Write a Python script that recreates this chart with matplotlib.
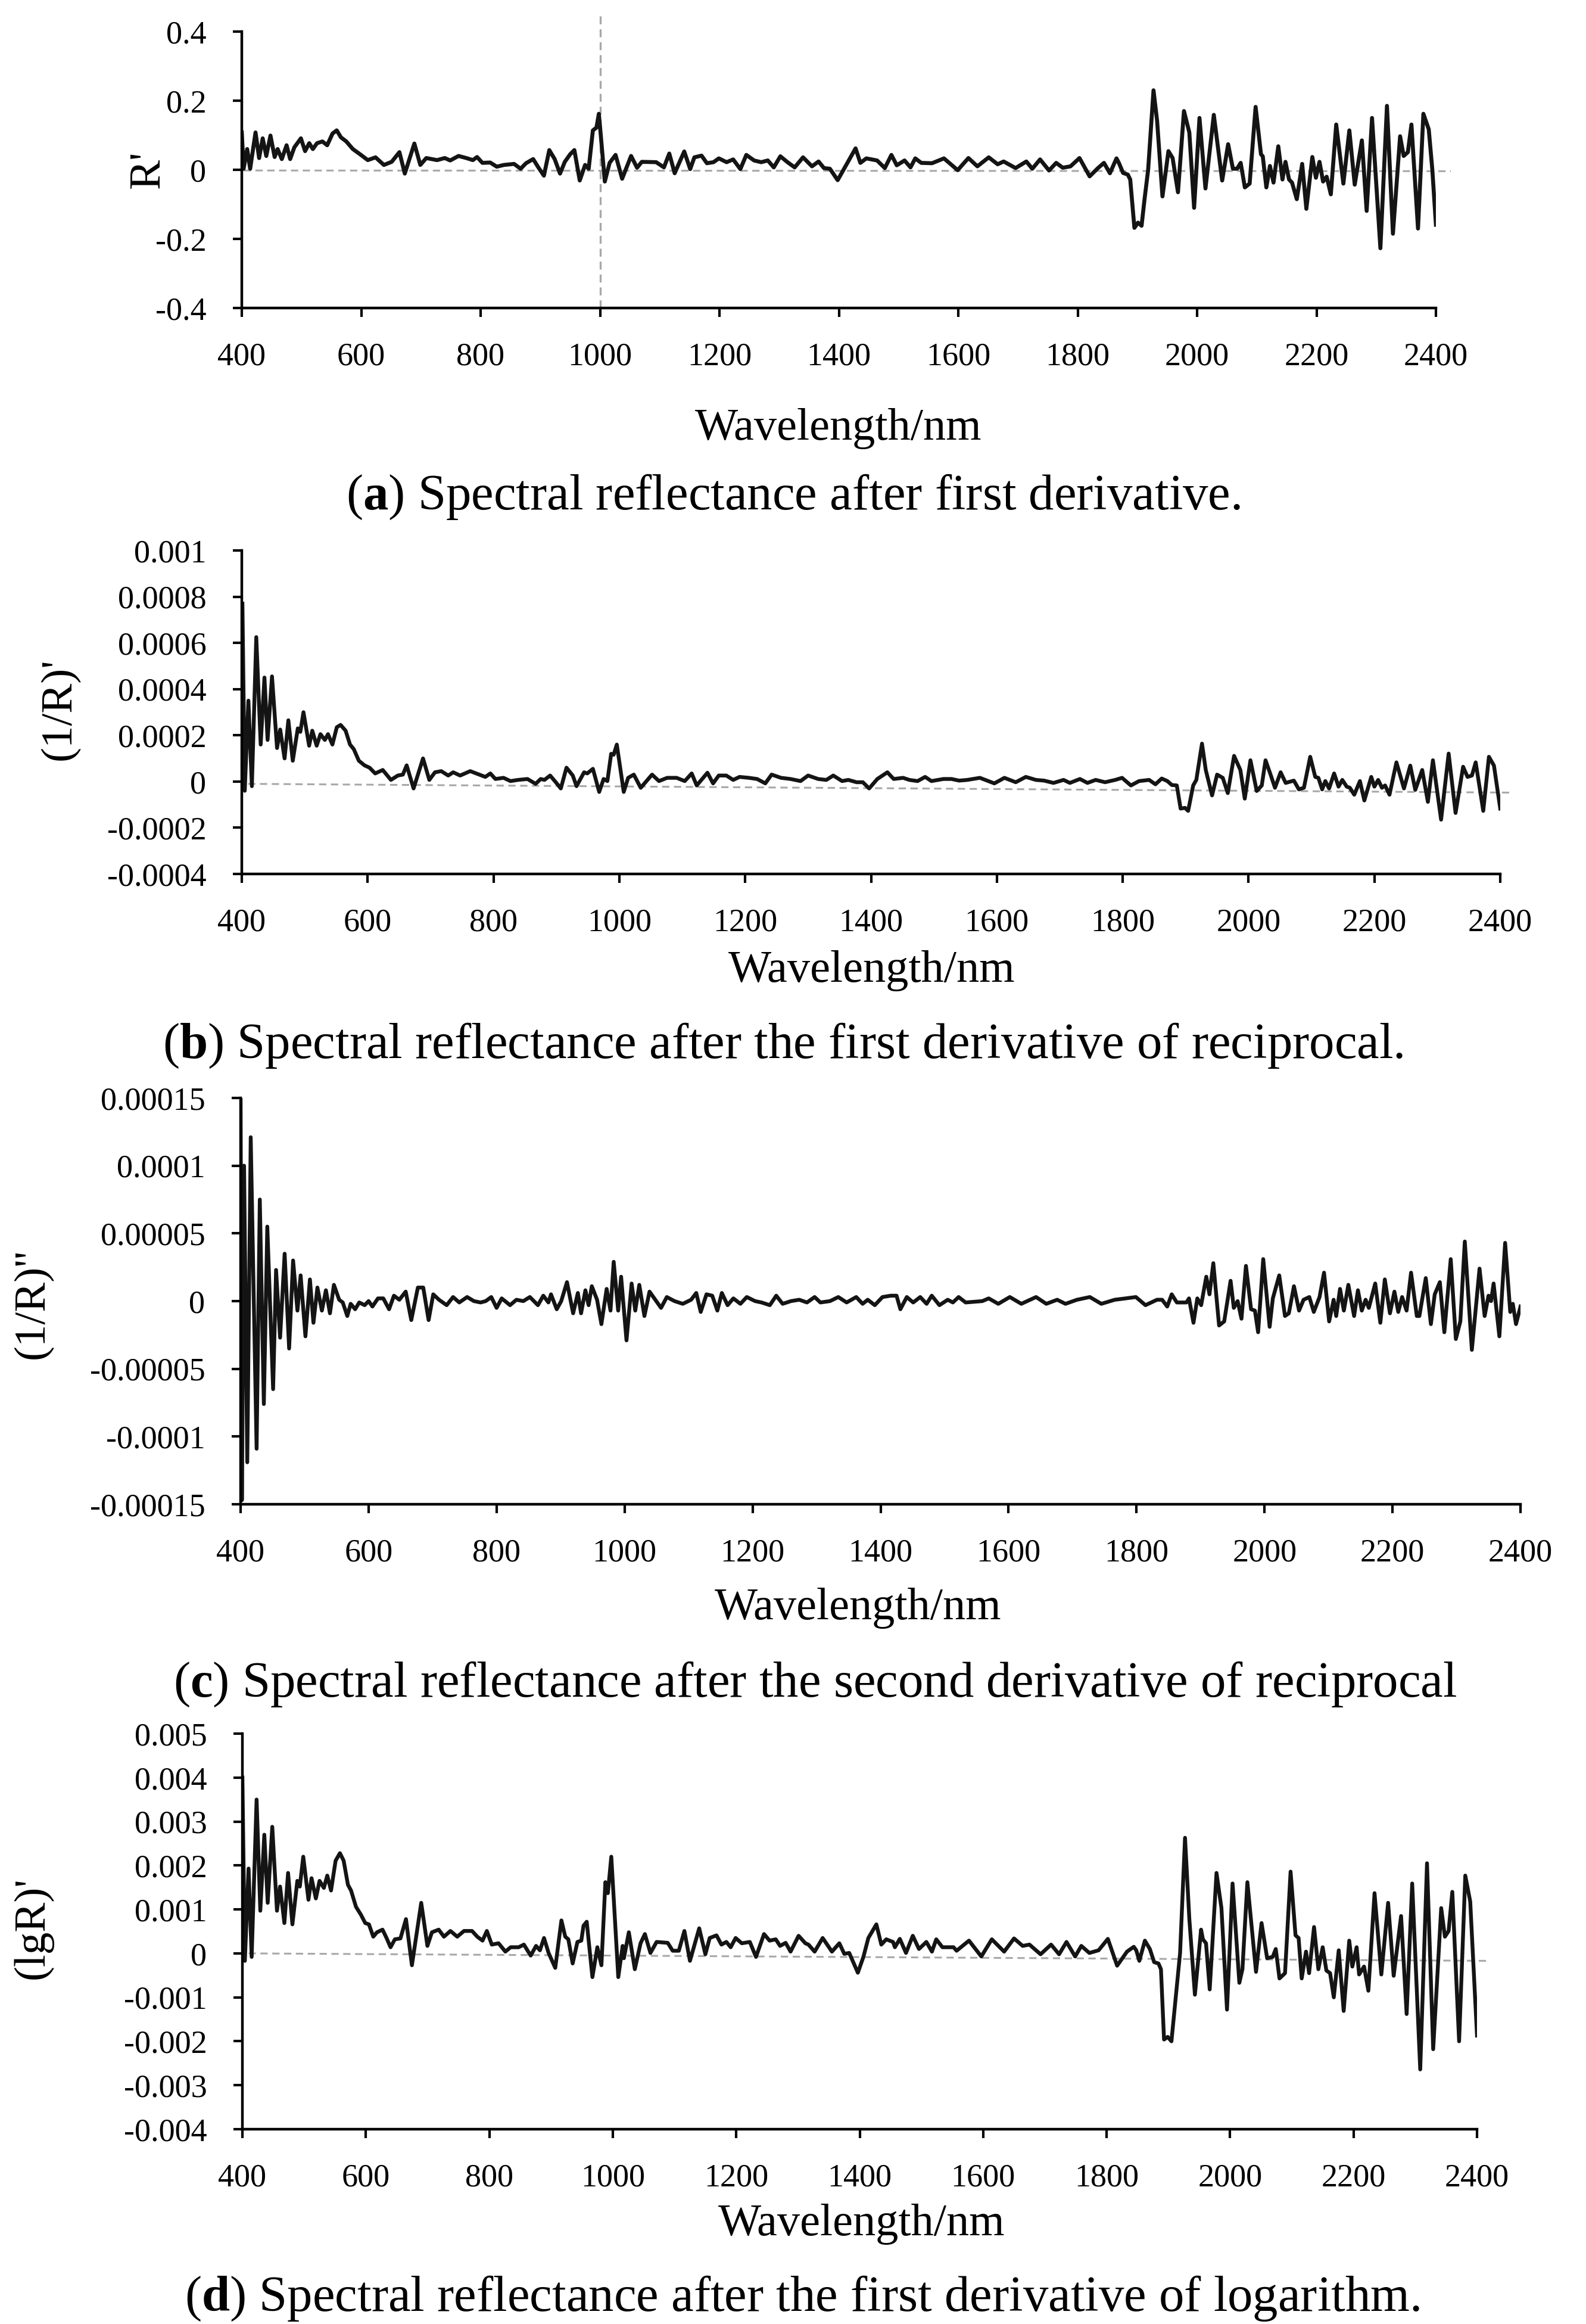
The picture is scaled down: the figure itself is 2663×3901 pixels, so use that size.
"""Spectral reflectance after derivative transforms: four stacked panels."""
import numpy as np
import matplotlib.pyplot as plt

plt.rcParams['font.family'] = ['Liberation Serif', 'DejaVu Serif']
plt.rcParams['mathtext.fontset'] = 'custom'
plt.rcParams['mathtext.rm'] = 'Liberation Serif'
plt.rcParams['mathtext.bf'] = 'Liberation Serif:bold'

# ---- data ----
wl_ticks = [400, 600, 800, 1000, 1200, 1400, 1600, 1800, 2000, 2200, 2400]

# (a) first derivative R'
wl_a = [400, 403, 409, 414, 423, 429, 435, 441, 448, 455,
        460, 467, 475, 481, 488, 499, 506, 513, 519, 526,
        535, 543, 552, 559, 566, 575, 586, 598, 611, 624,
        638, 651, 664, 673, 689, 699, 709, 727, 740, 749,
        763, 776, 787, 794, 803, 816, 827, 839, 856, 867,
        876, 888, 897, 906, 915, 924, 933, 941, 950, 957,
        966, 975, 981, 988, 994, 998, 1001, 1008, 1016, 1026,
        1037, 1052, 1062, 1070,
        1094, 1107, 1116, 1125, 1141, 1151, 1158, 1170, 1179, 1190,
        1199, 1212, 1223, 1235, 1245, 1258, 1270, 1281, 1291, 1302,
        1314, 1326, 1340, 1355, 1366, 1375, 1385, 1398, 1413, 1428,
        1436, 1446, 1464, 1477, 1488, 1497, 1510, 1520, 1528, 1538,
        1556, 1576, 1599, 1617, 1632, 1651, 1666, 1676, 1696, 1714,
        1724, 1737, 1752, 1764, 1775, 1788, 1803, 1820, 1834, 1844,
        1854, 1865,
        1869, 1876, 1884, 1888, 1895, 1901, 1907, 1912, 1918, 1927,
        1933, 1942, 1952, 1959, 1968, 1978, 1987, 1995, 2004, 2014,
        2028, 2042, 2052, 2060, 2067, 2073, 2080, 2088, 2098, 2107,
        2110, 2116, 2122, 2128, 2136, 2143, 2148, 2154, 2159, 2167,
        2176, 2183, 2193, 2199, 2205, 2211, 2217, 2224, 2233, 2245,
        2255, 2264, 2276, 2284, 2293, 2307, 2318, 2328, 2340, 2346,
        2353, 2359, 2370, 2379, 2388, 2394, 2400]
d1_a = [0.108, 0.003, 0.060, 0.003, 0.108, 0.034, 0.091, 0.040, 0.099, 0.037,
        0.060, 0.031, 0.071, 0.031, 0.065, 0.091, 0.054, 0.077, 0.060, 0.077,
        0.082, 0.071, 0.105, 0.114, 0.094, 0.082, 0.060, 0.045, 0.028, 0.036,
        0.014, 0.023, 0.051, -0.011, 0.076, 0.014, 0.034, 0.028, 0.034, 0.027,
        0.040, 0.034, 0.028, 0.037, 0.020, 0.021, 0.009, 0.014, 0.017, 0.003,
        0.019, 0.031, 0.006, -0.017, 0.057, 0.031, -0.011, 0.023, 0.045, 0.057,
        -0.031, 0.014, 0.003, 0.114, 0.122, 0.162, 0.105, -0.034, 0.020, 0.043,
        -0.026, 0.040, 0.006, 0.023,
        0.022, 0.007, 0.047, -0.010, 0.053, 0.002, 0.036, 0.041, 0.019, 0.022,
        0.033, 0.022, 0.030, 0.002, 0.043, 0.027, 0.022, 0.027, 0.007, 0.039,
        0.022, 0.007, 0.036, 0.010, 0.024, 0.005, 0.003, -0.030, 0.016, 0.062,
        0.020, 0.033, 0.027, 0.005, 0.043, 0.013, 0.027, 0.007, 0.033, 0.020,
        0.019, 0.033, -0.001, 0.034, 0.010, 0.036, 0.016, 0.024, 0.005, 0.024,
        0.003, 0.030, -0.002, 0.020, 0.006, 0.010, 0.034, -0.019, 0.005, 0.020,
        -0.010, 0.033,
        0.020, -0.009, -0.014, -0.028, -0.168, -0.153, -0.162, -0.085, 0.000, 0.230,
        0.142, -0.077, 0.054, 0.034, -0.065, 0.170, 0.108, -0.110, 0.150, -0.054,
        0.159, -0.031, 0.074, 0.003, 0.003, 0.020, -0.051, -0.040, 0.182, 0.045,
        0.039, -0.051, 0.011, -0.037, 0.068, -0.028, 0.023, -0.028, -0.037, -0.085,
        0.017, -0.113, 0.037, -0.023, 0.023, -0.034, -0.020, -0.071, 0.131, -0.040,
        0.114, -0.043, 0.085, -0.119, 0.150, -0.227, 0.185, -0.185, 0.097, 0.040,
        0.051, 0.131, -0.170, 0.162, 0.117, 0.000, -0.159]

# (b) first derivative of 1/R, in units of 1e-4
wl_b = [401, 404.7, 410.5, 416, 423, 430, 436, 441, 448, 456,
        461, 468, 474, 481, 489, 493, 498, 507, 512, 519,
        525, 532, 537, 544, 551, 557, 565, 572, 578, 586,
        595, 603, 612, 624, 637, 648, 656, 662, 673, 688,
        698, 707, 717, 728, 736, 747, 763, 787, 795, 803,
        816, 827, 839, 854, 867, 875, 881, 890, 899, 907,
        916, 926, 932, 944, 949, 958, 968, 975, 981, 987,
        991, 996, 1007, 1014, 1023, 1034,
        1052, 1063, 1076, 1091, 1104, 1115, 1123, 1140, 1149, 1158,
        1170, 1181, 1191, 1206, 1219, 1232, 1242, 1257, 1272, 1288,
        1300, 1316, 1329, 1340, 1354, 1364, 1377, 1387, 1397, 1410,
        1426, 1436, 1451, 1461, 1474, 1486, 1496, 1515, 1528, 1540,
        1553, 1573, 1596, 1612, 1630, 1646, 1662, 1675, 1690, 1706,
        1716, 1732, 1744, 1757, 1772, 1788, 1799, 1813, 1826,
        1842, 1852, 1862, 1871, 1878, 1886, 1892, 1899, 1904, 1912,
        1917, 1926, 1932, 1942, 1950, 1959, 1967, 1977, 1987, 1994,
        2003, 2013, 2021, 2027, 2035, 2042, 2051, 2059, 2072, 2080,
        2088, 2098, 2106, 2111, 2117, 2122, 2128, 2136, 2143, 2149,
        2156, 2161, 2168, 2177, 2184, 2195, 2200, 2206, 2212, 2217,
        2224, 2235, 2247, 2257, 2265, 2276, 2285, 2293, 2306, 2318,
        2329, 2341, 2348, 2355, 2361, 2373, 2382, 2390, 2400]
d1_inv_b = [7.7, -0.4, 3.5, -0.2, 6.25, 1.6, 4.5, 1.8, 4.55, 1.45,
            2.25, 1.0, 2.65, 0.9, 2.3, 2.15, 3.0, 1.55, 2.2, 1.55,
            2.05, 1.8, 2.05, 1.6, 2.35, 2.45, 2.2, 1.6, 1.4, 0.9,
            0.7, 0.6, 0.35, 0.5, 0.07, 0.26, 0.3, 0.7, -0.3, 1.0,
            0.07, 0.4, 0.45, 0.26, 0.4, 0.26, 0.45, 0.2, 0.35, 0.11,
            0.16, 0.02, 0.07, 0.11, -0.1, 0.11, 0.07, 0.26, -0.03, -0.3,
            0.6, 0.26, -0.2, 0.4, 0.35, 0.55, -0.45, 0.11, 0.02, 1.2,
            1.16, 1.6, -0.45, 0.16, 0.3, -0.27,
            0.3, 0.02, 0.16, 0.16, 0.02, 0.35, -0.17, 0.38, -0.08, 0.26,
            0.26, 0.07, 0.2, 0.16, 0.11, -0.08, 0.3, 0.16, 0.11, 0.02,
            0.26, 0.11, 0.07, 0.26, 0.02, 0.07, -0.03, -0.03, -0.3, 0.11,
            0.4, 0.11, 0.16, 0.07, 0.02, 0.2, 0.02, 0.11, 0.11, 0.04,
            0.07, 0.16, -0.08, 0.16, -0.03, 0.2, 0.07, 0.04, -0.06, 0.07,
            -0.06, 0.11, -0.06, 0.07, -0.03, 0.07, 0.16, -0.17, 0.02,
            0.07, -0.12, 0.13, 0.02, -0.15, -0.17, -1.17, -1.14, -1.27, -0.17,
            0.07, 1.64, 0.5, -0.6, 0.3, 0.16, -0.5, 1.11, 0.5, -0.74,
            0.92, -0.41, -0.17, 0.92, 0.3, -0.27, 0.4, -0.06, 0.04, -0.34,
            -0.27, 1.07, 0.2, 0.16, -0.34, 0.02, -0.3, 0.35, -0.22, 0.07,
            -0.22, -0.27, -0.57, 0.02, -0.82, 0.2, -0.22, 0.07, -0.27, -0.17,
            -0.57, 0.83, -0.3, 0.69, -0.36, 0.5, -0.88, 0.92, -1.65, 1.21,
            -1.36, 0.64, 0.2, 0.26, 0.83, -1.27, 1.07, 0.69, -1.17]

# (c) second derivative of 1/R, in units of 1e-5
wl_c = [400, 402, 405.4, 410.4, 415.8, 425, 430, 436.3, 441.7, 450.8,
        455.4, 461.7, 468.8, 475.8, 482, 488.8, 493.8, 501.3, 508.3, 513.8,
        520, 527, 533.3, 539.6, 545.8, 554, 559.6, 566.7, 572, 579,
        585.4, 593.8, 600, 606, 614.6, 623, 632, 639.6, 648, 658,
        666.7, 677, 685.4, 693.8, 701, 710, 722, 732, 741.7, 754,
        764.6, 775, 783, 791.7, 800, 808, 821, 831, 841.7, 852,
        864.6, 873, 881, 885, 894, 901, 910, 919.6, 927, 932,
        938.8, 943.8, 948.8, 957, 963.8, 972, 978, 983, 990, 994.6,
        1003, 1011, 1016.7, 1023,
        1031, 1039, 1048, 1057, 1066, 1078, 1091, 1104, 1112, 1119,
        1128, 1137, 1145, 1152, 1161, 1170, 1181, 1191, 1204, 1214,
        1227, 1237, 1247, 1260, 1273, 1285, 1297, 1306, 1321, 1334,
        1347, 1362, 1372, 1380, 1391, 1403, 1416, 1425, 1431, 1441,
        1451, 1462, 1472, 1480, 1492, 1505, 1513, 1522, 1533, 1559,
        1569, 1584, 1602, 1620, 1643, 1659, 1676, 1689, 1707, 1727,
        1745, 1766, 1783, 1799, 1814,
        1832, 1840, 1848, 1855, 1863, 1878, 1882, 1889, 1895, 1901,
        1909, 1914, 1920, 1929, 1937, 1947, 1952, 1958, 1964, 1971,
        1979, 1985, 1990, 1998, 2008, 2013, 2023, 2032, 2038, 2046,
        2054, 2061, 2070, 2077, 2086, 2093, 2101, 2108, 2112, 2118,
        2124, 2131, 2140, 2146, 2152, 2158, 2163, 2173, 2181, 2188,
        2196, 2203, 2209, 2215, 2222, 2229, 2238, 2242, 2252, 2260,
        2266, 2274, 2281, 2291, 2299, 2306, 2313, 2324, 2336, 2344,
        2350, 2354, 2358, 2367, 2376, 2384, 2388, 2393, 2400]
d2_inv_c = [15.0, -14.7, 10.0, -11.9, 12.1, -10.9, 7.5, -7.6, 5.5, -6.5,
            2.3, -2.7, 3.5, -3.5, 3.0, -0.7, 1.9, -2.6, 1.6, -1.6,
            1.0, -0.7, 0.8, -0.9, 1.2, 0.1, -0.1, -1.1, -0.2, -0.6,
            -0.1, -0.3, 0.0, -0.4, 0.2, 0.2, -0.6, 0.4, 0.1, 0.7,
            -1.4, 1.0, 1.0, -1.4, 0.5, 0.1, -0.3, 0.3, -0.1, 0.3,
            0.0, -0.1, 0.0, 0.3, -0.5, 0.2, -0.3, 0.1, 0.0, 0.3,
            -0.3, 0.4, -0.1, 0.5, -0.6, 0.0, 1.4, -0.9, 0.6, -0.9,
            0.8, -0.3, 1.1, 0.1, -1.7, 0.9, -0.7, 2.9, -0.7, 1.8,
            -2.9, 1.3, -0.7, 1.2,
            -1.1, 0.7, 0.1, -0.5, 0.3, 0.0, -0.2, 0.1, 0.6, -0.8,
            0.5, 0.4, -0.7, 0.6, -0.3, 0.2, -0.2, 0.3, 0.0, -0.1,
            -0.3, 0.4, -0.2, 0.0, 0.1, -0.1, 0.3, -0.1, 0.0, 0.3,
            -0.1, 0.3, -0.2, 0.1, -0.3, 0.3, 0.4, 0.4, -0.6, 0.3,
            -0.1, 0.3, -0.2, 0.4, -0.3, 0.1, -0.1, 0.3, -0.1, 0.0,
            0.2, -0.2, 0.3, -0.2, 0.3, -0.2, 0.1, -0.2, 0.1, 0.3,
            -0.2, 0.1, 0.2, 0.3, -0.3,
            0.1, 0.1, -0.4, 0.5, -0.1, -0.1, 0.2, -1.6, 0.2, -0.3,
            1.8, 0.5, 2.8, -1.8, -1.5, 1.5, -0.5, 0.0, -1.3, 2.6,
            -0.6, -0.7, -2.3, 3.1, -1.9, 0.2, 1.9, -1.1, -0.9, 1.1,
            -0.7, 0.1, 0.3, -0.8, 0.3, 2.1, -1.5, 0.1, -1.1, 0.9,
            -0.7, 1.2, -1.1, 0.8, -0.7, 0.1, -0.5, 1.3, -1.6, 1.6,
            -0.9, 0.7, -0.8, 0.3, -0.7, 2.1, -1.1, -1.1, 1.7, -1.7,
            0.5, 1.4, -2.3, 3.1, -2.8, -1.5, 4.4, -3.6, 2.4, -1.1,
            0.4, 0.0, 1.3, -2.6, 4.3, -0.8, -0.2, -1.7, -0.4]

# (d) first derivative of lgR, in units of 1e-3
wl_d = [400, 404, 410, 415, 423, 429, 435.5, 441, 448.4, 456,
        461, 468, 474, 481, 489, 493, 498.6, 507, 512, 519,
        525, 532, 537.5, 543.6, 551, 558, 564, 571, 576, 584,
        592, 599, 605, 612, 618, 627, 633.5, 640, 647, 656,
        665, 674.6, 689.7, 699.7, 707, 718, 726.5, 737, 748, 759,
        772, 780.5, 789, 796, 804, 815, 826, 834.6, 847.6, 856,
        867, 875.7, 882, 888.6, 896, 906.8, 916.8, 923, 928, 935,
        942.7, 949, 952.6, 957.8, 967, 975, 981.6, 988, 992, 997.6,
        1008.9, 1016, 1018, 1026, 1035.7,
        1045, 1052, 1061, 1071, 1089, 1097, 1107, 1116, 1125, 1140,
        1150, 1157, 1168, 1176, 1184, 1191, 1199, 1209, 1222, 1232,
        1245, 1254, 1264, 1271, 1280, 1288, 1301, 1312, 1317, 1327,
        1340, 1355, 1367, 1375, 1383, 1397, 1406, 1414, 1427, 1435,
        1443, 1454, 1457, 1465, 1475, 1486, 1496, 1508, 1517, 1524,
        1534, 1552, 1557, 1577, 1597, 1614, 1634, 1650, 1664, 1675,
        1693, 1710, 1723, 1735, 1749, 1759, 1772, 1787, 1802, 1817,
        1833,
        1844, 1848, 1853, 1862, 1870, 1877, 1884, 1888, 1893, 1899,
        1905, 1912, 1919, 1927, 1934, 1943, 1953, 1956, 1961, 1967,
        1978, 1986, 1995, 2004, 2015, 2020, 2028, 2042, 2051, 2060,
        2069, 2074, 2080, 2089, 2098, 2106, 2111, 2116, 2123, 2128,
        2136, 2143, 2150, 2156, 2162, 2168, 2176, 2184, 2193, 2198,
        2205, 2209, 2217, 2224, 2234, 2245, 2256, 2265, 2277, 2286,
        2295, 2308, 2319, 2329, 2342, 2348, 2354, 2360, 2371, 2381,
        2389, 2400]
d1_log_d = [4.0, -0.17, 1.93, -0.08, 3.5, 0.97, 2.7, 1.15, 2.88, 0.97,
            1.52, 0.69, 1.83, 0.66, 1.65, 1.52, 2.2, 1.22, 1.71, 1.25,
            1.65, 1.49, 1.77, 1.43, 2.11, 2.28, 2.11, 1.56, 1.43, 1.06,
            0.88, 0.69, 0.66, 0.38, 0.48, 0.54, 0.35, 0.14, 0.32, 0.34,
            0.78, -0.27, 1.15, 0.17, 0.48, 0.54, 0.38, 0.51, 0.38, 0.51,
            0.51, 0.38, 0.29, 0.51, 0.2, 0.23, 0.04, 0.14, 0.14, 0.2,
            -0.05, 0.17, 0.07, 0.35, 0.01, -0.33, 0.75, 0.38, 0.32, -0.23,
            0.26, 0.29, 0.63, 0.72, -0.54, 0.14, -0.27, 1.62, 1.37, 2.2,
            -0.54, 0.17, -0.11, 0.48, -0.36,
            0.23, 0.44, 0.01, 0.26, 0.24, 0.06, 0.06, 0.51, -0.17, 0.57,
            -0.02, 0.35, 0.41, 0.2, 0.26, 0.14, 0.35, 0.23, 0.26, -0.08,
            0.44, 0.29, 0.32, 0.17, 0.24, 0.04, 0.4, 0.23, 0.2, 0.04,
            0.35, 0.04, 0.23, -0.01, 0.01, -0.44, -0.08, 0.35, 0.66, 0.2,
            0.32, 0.26, 0.14, 0.33, 0.01, 0.4, 0.1, 0.26, 0.04, 0.32,
            0.14, 0.14, 0.06, 0.29, -0.07, 0.32, 0.04, 0.34, 0.17, 0.2,
            -0.02, 0.2, -0.02, 0.26, -0.07, 0.17, 0.01, 0.07, 0.33, -0.28,
            0.04,
            0.15, 0.07, -0.17, 0.29, 0.1, -0.2, -0.23, -0.36, -1.96, -1.9,
            -2.0, -1.0, 0.01, 2.63, 0.78, -0.94, 0.54, 0.32, 0.23, -0.82,
            1.83, 1.03, -1.28, 1.59, -0.67, -0.36, 1.62, -0.42, 0.69, -0.11,
            -0.08, 0.1, -0.57, -0.45, 1.86, 0.41, 0.35, -0.57, 0.04, -0.45,
            0.6, -0.36, 0.14, -0.39, -0.45, -1.0, 0.07, -1.31, 0.29, -0.3,
            0.14, -0.48, -0.3, -0.85, 1.37, -0.48, 1.15, -0.51, 0.85, -1.38,
            1.59, -2.64, 2.05, -2.18, 1.03, 0.38, 0.51, 1.4, -2.0, 1.77,
            1.18, -1.87]

# dashed linear trend lines (end points)
trend_a = ([403, 2425], [-0.002, -0.004])
trend_b = ([410, 2420], [-0.10e-4, -0.48e-4])
trend_d = ([410, 2420], [0.0, -0.17e-3])

yticks_a = [0.4, 0.2, 0, -0.2, -0.4]
ylabels_a = ['0.4', '0.2', '0', '-0.2', '-0.4']
yticks_b = [0.001, 0.0008, 0.0006, 0.0004, 0.0002, 0, -0.0002, -0.0004]
ylabels_b = ['0.001', '0.0008', '0.0006', '0.0004', '0.0002', '0', '-0.0002', '-0.0004']
yticks_c = [0.00015, 0.0001, 0.00005, 0, -0.00005, -0.0001, -0.00015]
ylabels_c = ['0.00015', '0.0001', '0.00005', '0', '-0.00005', '-0.0001', '-0.00015']
yticks_d = [0.005, 0.004, 0.003, 0.002, 0.001, 0, -0.001, -0.002, -0.003, -0.004]
ylabels_d = ['0.005', '0.004', '0.003', '0.002', '0.001', '0', '-0.001', '-0.002', '-0.003', '-0.004']

# ---- figure ----
W, H = 2663, 3901
fig = plt.figure(figsize=(W / 100, H / 100), dpi=100)
LINE = '#141414'
DASH = '#a8a8a8'
TICK_FS, XLAB_FS, YLAB_FS, CAP_FS = 39, 55, 54, 61


def px_axes(x0, x1, y0, y1):
    return fig.add_axes([x0 / W, 1 - y1 / H, (x1 - x0) / W, (y1 - y0) / H])


def style(ax, yticks, ylabels):
    ax.set_xlim(400, 2400)
    ax.set_ylim(min(yticks), max(yticks))
    ax.set_xticks(wl_ticks)
    ax.set_xticklabels([str(t) for t in wl_ticks])
    ax.set_yticks(yticks)
    ax.set_yticklabels(ylabels)
    for s in ('top', 'right'):
        ax.spines[s].set_visible(False)
    for s in ('left', 'bottom'):
        ax.spines[s].set_linewidth(3.2)
        ax.spines[s].set_color('black')
    ax.tick_params(direction='out', length=11, width=3, labelsize=TICK_FS, pad=32)
    ax.tick_params(axis='x', pad=30)


def ftext(x, y, s, **kw):
    fig.text(x / W, 1 - y / H, s, ha='center', va='center', **kw)


# (a)
ax = px_axes(406, 2411, 53, 517)
ax.plot(trend_a[0], trend_a[1], color=DASH, lw=2.2, dashes=(4, 2.5), clip_on=False)
ax.plot([1000, 1000], [-0.4, 0.448], color=DASH, lw=2.4, dashes=(4, 2.5), clip_on=False)
ax.plot(wl_a, d1_a, color=LINE, lw=4.8)
style(ax, yticks_a, ylabels_a)
ftext(1408, 719, 'Wavelength/nm', fontsize=XLAB_FS)
ftext(249, 284, "R'", fontsize=YLAB_FS, rotation=90)
ftext(1332, 834, r"($\mathbf{a}$) Spectral reflectance after first derivative.", fontsize=CAP_FS)

# (b)
ax = px_axes(406, 2519, 924, 1467)
ax.plot(trend_b[0], trend_b[1], color=DASH, lw=2.2, dashes=(4, 2.5), clip_on=False)
ax.plot(wl_b, np.array(d1_inv_b) * 1e-4, color=LINE, lw=4.6)
style(ax, yticks_b, ylabels_b)
ftext(1464, 1630, 'Wavelength/nm', fontsize=XLAB_FS)
ftext(100, 1190, "(1/R)'", fontsize=YLAB_FS, rotation=90)
ftext(1315, 1755, r"($\mathbf{b}$) Spectral reflectance after the first derivative of reciprocal.", fontsize=CAP_FS)

# (c)
ax = px_axes(404, 2553, 1843, 2525)
ax.plot(wl_c, np.array(d2_inv_c) * 1e-5, color=LINE, lw=4.6)
style(ax, yticks_c, ylabels_c)
ftext(1441, 2700, 'Wavelength/nm', fontsize=XLAB_FS)
ftext(55, 2188, "(1/R)''", fontsize=YLAB_FS, rotation=90)
ftext(1369, 2827, r"($\mathbf{c}$) Spectral reflectance after the second derivative of reciprocal", fontsize=CAP_FS)

# (d)
ax = px_axes(407, 2480, 2910, 3574)
ax.plot(trend_d[0], trend_d[1], color=DASH, lw=2.2, dashes=(4, 2.5), clip_on=False)
ax.plot(wl_d, np.array(d1_log_d) * 1e-3, color=LINE, lw=4.6)
style(ax, yticks_d, ylabels_d)
ftext(1447, 3734, 'Wavelength/nm', fontsize=XLAB_FS)
ftext(55, 3236, "(lgR)'", fontsize=YLAB_FS, rotation=90)
ftext(1347, 3858, r"($\mathbf{d}$) Spectral reflectance after the first derivative of logarithm.", fontsize=CAP_FS)

fig.savefig('out.png', dpi=100, facecolor='white')
